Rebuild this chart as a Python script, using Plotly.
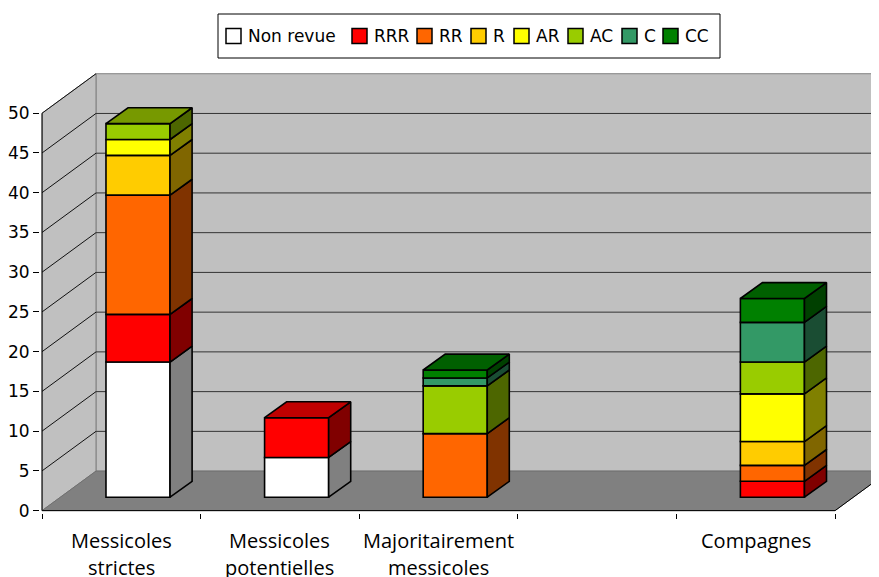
import plotly.graph_objects as go

# categories (4th slot is empty in the original chart)
categories = ["Messicoles<br>strictes", "Messicoles<br>potentielles",
              "Majoritairement<br>messicoles", "", "Compagnes"]
series_names = ["Non revue", "RRR", "RR", "R", "AR", "AC", "C", "CC"]

non_revue = [17, 5, 0, 0, 0]
rrr = [6, 5, 0, 0, 2]
rr = [15, 0, 8, 0, 2]
r = [5, 0, 0, 0, 3]
ar = [2, 0, 0, 0, 6]
ac = [2, 0, 6, 0, 4]
c = [0, 0, 1, 0, 5]
cc = [0, 0, 1, 0, 3]

y_ticks = list(range(0, 55, 5))

series = [non_revue, rrr, rr, r, ar, ac, c, cc]
front_colors = ["#ffffff", "#ff0000", "#ff6600", "#ffcc00", "#ffff00", "#99cc00", "#339966", "#008000"]
side_colors = ["#808080", "#800000", "#803300", "#806600", "#808000", "#4d6600", "#1a4d33", "#004000"]
top_colors = ["#c0c0c0", "#c00000", "#bf4c00", "#bf9900", "#bfbf00", "#779900", "#267350", "#006000"]

# the page body has an 8px margin, so the figure is a bit smaller than the window
OFF = 8
W, H = 879 - OFF, 577 - OFF
L, R, T, B = 32, 0, 65, 64

# oblique "3D" geometry (axis units)
DX, DY = 0.34, 4.97          # full depth of walls
SX, SY = 0.105, 1.69         # bar front face offset inside the depth
BW = 0.404                   # bar width
BDX, BDY = 0.139, 2.0        # bar depth
X_MIN, X_MAX = -0.013, 5.277
Y_MIN, Y_MAX = -0.3, 55.06


# window pixel -> paper coords
def px_x(p):
    return (p - OFF - L) / (W - L - R)


def px_y(p):
    return (H - B - (p - OFF)) / (H - T - B)


fig = go.Figure()

n = len(categories)
cum = [0] * n
tops = [None] * n
faces = []
for i, vals in enumerate(series):
    xs, ys, bases = [], [], []
    for k in range(n):
        v = vals[k]
        xs.append(k + 0.5 + SX)
        if v:
            ys.append(v)
            bases.append(cum[k] + SY)
            faces.append((k, cum[k], cum[k] + v, i))
            tops[k] = (cum[k] + v, i)
            cum[k] += v
        else:
            ys.append(None)
            bases.append(None)
    fig.add_trace(go.Bar(x=xs, y=ys, base=bases, width=BW, name=series_names[i],
                         marker=dict(color=front_colors[i], line=dict(color="black", width=1.6)),
                         showlegend=False, hoverinfo="skip"))

# side faces of each segment
for k, b, t, i in faces:
    xr = k + 0.5 + SX + BW / 2
    fig.add_trace(go.Scatter(
        x=[xr, xr + BDX, xr + BDX, xr, xr],
        y=[b + SY, b + SY + BDY, t + SY + BDY, t + SY, b + SY],
        mode="lines", fill="toself", fillcolor=side_colors[i],
        line=dict(color="black", width=1.6), showlegend=False, hoverinfo="skip"))

# top face of each stack
for k in range(n):
    if tops[k] is None:
        continue
    t, i = tops[k]
    xl = k + 0.5 + SX - BW / 2
    xr = xl + BW
    fig.add_trace(go.Scatter(
        x=[xl, xl + BDX, xr + BDX, xr, xl],
        y=[t + SY, t + SY + BDY, t + SY + BDY, t + SY, t + SY],
        mode="lines", fill="toself", fillcolor=top_colors[i],
        line=dict(color="black", width=1.6), showlegend=False, hoverinfo="skip"))

ymax = y_ticks[-1]
shapes = []
# walls and floor
shapes.append(dict(type="path", layer="below",
                   path=f"M {DX},{DY} L {X_MAX + 1},{DY} L {X_MAX + 1},{ymax + DY} L {DX},{ymax + DY} Z",
                   fillcolor="#c0c0c0", line=dict(color="#808080", width=1)))
shapes.append(dict(type="path", layer="below",
                   path=f"M 0,0 L 0,{ymax} L {DX},{ymax + DY} L {DX},{DY} Z",
                   fillcolor="#c0c0c0", line=dict(color="#808080", width=1)))
shapes.append(dict(type="path", layer="below",
                   path=f"M 0,0 L {n},0 L {n + DX},{DY} L {DX},{DY} Z",
                   fillcolor="#808080", line=dict(color="#707070", width=1)))
# gridlines
for v in y_ticks[1:]:
    shapes.append(dict(type="line", layer="below", x0=0, y0=v, x1=DX, y1=v + DY,
                       line=dict(color="#111111", width=1)))
    if v < ymax:
        shapes.append(dict(type="line", layer="below", x0=DX, y0=v + DY, x1=X_MAX + 1, y1=v + DY,
                           line=dict(color="#333333", width=1)))
# axis lines
shapes.append(dict(type="line", x0=0, y0=0, x1=0, y1=ymax, line=dict(color="black", width=1)))
shapes.append(dict(type="line", x0=0, y0=0, x1=n, y1=0, line=dict(color="black", width=1)))
shapes.append(dict(type="line", x0=n, y0=0, x1=n + DX, y1=DY, line=dict(color="black", width=1)))

# legend box drawn by hand (tight Excel-like spacing)
shapes.append(dict(type="rect", xref="paper", yref="paper",
                   x0=px_x(218), x1=px_x(720), y0=px_y(58), y1=px_y(14),
                   fillcolor="white", line=dict(color="black", width=1)))
legend_x = [226, 352, 417, 471, 514, 568, 622, 663]
annotations = []
for i, name in enumerate(series_names):
    x0 = legend_x[i]
    shapes.append(dict(type="rect", xref="paper", yref="paper",
                       x0=px_x(x0), x1=px_x(x0 + 15), y0=px_y(43.5), y1=px_y(28.5),
                       fillcolor=front_colors[i], line=dict(color="black", width=1.5)))
    annotations.append(dict(text=name, xref="paper", yref="paper",
                            x=px_x(x0 + 20), y=px_y(36.5), xanchor="left", yanchor="middle",
                            showarrow=False,
                            font=dict(family="DejaVu Sans", size=17, color="black")))

# category labels, two lines each
for k, lab in enumerate(categories):
    for j, line in enumerate(lab.split("<br>")):
        if not line:
            continue
        annotations.append(dict(text=line, xref="x", yref="paper",
                                x=k + 0.5, y=px_y(540 + 27 * j),
                                xanchor="center", yanchor="middle", showarrow=False,
                                font=dict(family="Open Sans", size=20, color="black")))

fig.update_layout(
    width=W, height=H,
    margin=dict(l=L, r=R, t=T, b=B),
    paper_bgcolor="white", plot_bgcolor="white",
    barmode="overlay",
    showlegend=False,
    shapes=shapes,
    annotations=annotations,
    xaxis=dict(range=[X_MIN, X_MAX], tickvals=list(range(n + 1)), ticktext=[""] * (n + 1),
               ticks="outside", ticklen=5, tickcolor="black", showgrid=False,
               zeroline=False, showline=False, fixedrange=True, automargin=False),
    yaxis=dict(range=[Y_MIN, Y_MAX], tickvals=y_ticks, ticks="outside", ticklen=6,
               tickcolor="black", showgrid=False, zeroline=False, showline=False,
               automargin=False, ticklabelstandoff=0,
               tickfont=dict(family="DejaVu Sans", size=17, color="black")),
)

fig.write_html("out.html")
